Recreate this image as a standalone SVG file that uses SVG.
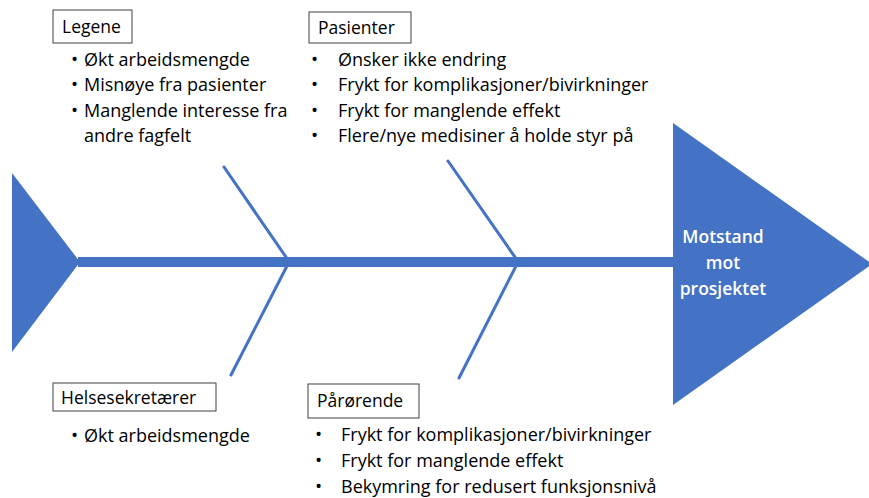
<svg xmlns="http://www.w3.org/2000/svg" width="869" height="498" viewBox="0 0 869 498">
<style>
.t{font-family:"Open Sans","Noto Sans","Liberation Sans",sans-serif;font-size:18px;fill:#000}
.h{font-family:"Open Sans","Noto Sans","Liberation Sans",sans-serif;font-size:17.5px;fill:#000}
.b{font-family:"Open Sans","Noto Sans","Liberation Sans",sans-serif;font-size:19px;fill:#000}
.box{fill:#fff;stroke:#404040;stroke-width:1}
.bone{stroke:#4472C4;stroke-width:3;fill:none;stroke-linecap:round}
.head{fill:#4472C4}
.w{font-family:"Open Sans","Noto Sans","Liberation Sans",sans-serif;font-size:17.5px;font-weight:600;fill:#fff;text-anchor:middle}
</style>
<rect width="869" height="498" fill="#fff"/>
<g id="connectors">
<line x1="78" y1="262" x2="676" y2="262" stroke="#4472C4" stroke-width="10"/>
<line class="bone" x1="224" y1="167" x2="288" y2="260"/>
<line class="bone" x1="288" y1="264" x2="231" y2="375"/>
<line class="bone" x1="448" y1="161" x2="517" y2="260"/>
<line class="bone" x1="517" y1="264" x2="459" y2="378"/>
</g>
<g id="tail">
<polygon class="head" points="12,173 80,262 12,352"/>
</g>
<g id="head">
<polygon class="head" points="673,123 872,264 673,405"/>
<text class="w" x="723" y="243">Motstand</text>
<text class="w" x="723" y="269">mot</text>
<text class="w" x="723" y="295">prosjektet</text>
</g>
<g id="legene">
<rect class="box" x="53" y="10" width="79" height="33"/>
<text class="h" x="62" y="33">Legene</text>
<text class="b" x="71" y="66">•</text><text class="t" x="84" y="66">Økt arbeidsmengde</text>
<text class="b" x="71" y="91">•</text><text class="t" x="84" y="91">Misnøye fra pasienter</text>
<text class="b" x="71" y="117">•</text><text class="t" x="84" y="117">Manglende interesse fra</text>
<text class="t" x="84" y="142">andre fagfelt</text>
</g>
<g id="pasienter">
<rect class="box" x="309" y="12" width="102" height="31"/>
<text class="h" x="318" y="34">Pasienter</text>
<text class="b" x="311" y="66">•</text><text class="t" x="338" y="66">Ønsker ikke endring</text>
<text class="b" x="311" y="91">•</text><text class="t" x="338" y="91">Frykt for komplikasjoner/bivirkninger</text>
<text class="b" x="311" y="117">•</text><text class="t" x="338" y="117">Frykt for manglende effekt</text>
<text class="b" x="311" y="142">•</text><text class="t" x="338" y="142">Flere/nye medisiner å holde styr på</text>
</g>
<g id="helsesekretaerer">
<rect class="box" x="53" y="383" width="163" height="28"/>
<text class="h" x="61" y="404">Helsesekretærer</text>
<text class="b" x="71" y="442">•</text><text class="t" x="84" y="442">Økt arbeidsmengde</text>
</g>
<g id="parorende">
<rect class="box" x="308" y="384" width="111" height="34"/>
<text class="h" x="317" y="407">Pårørende</text>
<text class="b" x="315" y="441">•</text><text class="t" x="341" y="441">Frykt for komplikasjoner/bivirkninger</text>
<text class="b" x="315" y="467">•</text><text class="t" x="341" y="467">Frykt for manglende effekt</text>
<text class="b" x="315" y="493">•</text><text class="t" x="341" y="493">Bekymring for redusert funksjonsnivå</text>
</g>
</svg>
